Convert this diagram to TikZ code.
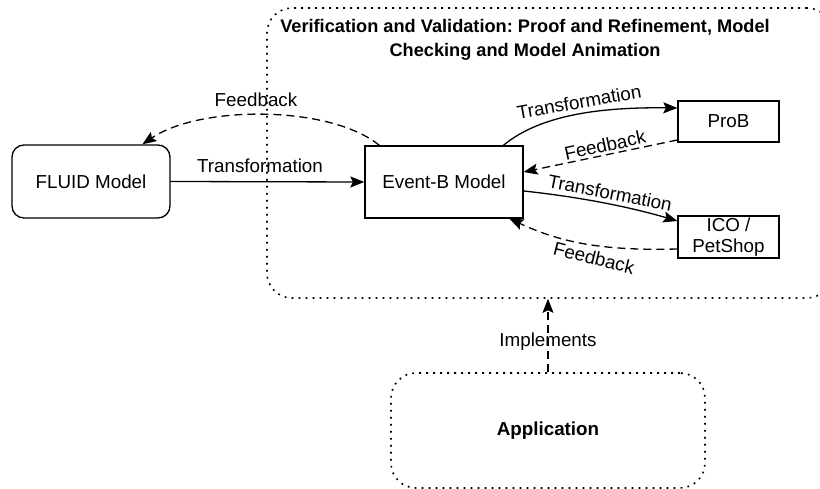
\documentclass[tikz,border=0pt]{standalone}
\usepackage{fontspec}
\setmainfont{Liberation Sans}
\usetikzlibrary{arrows.meta,calc}
\frenchspacing
\begin{document}
\begin{tikzpicture}[x=1pt,y=-1pt,
  every node/.style={font=\fontsize{18.8}{22}\selectfont},
  box/.style={draw, line width=1.3pt, inner sep=0pt},
  dotbox/.style={draw, line width=1.6pt, rounded corners=25pt, dash pattern=on 1.8pt off 5.2pt, inner sep=0pt},
  conn/.style={line width=1.3pt, -{Stealth[length=14pt,width=11pt,inset=2.5pt]}},
  fb/.style={conn, dash pattern=on 8pt off 5pt},
  lbl/.style={inner sep=0pt}
]
\useasboundingbox (0,0) rectangle (820,489);
\clip (0,0) rectangle (820,489);

\node[dotbox, minimum width=565pt, minimum height=290pt] (vv) at (549.5,153) {};
\node[font=\bfseries\fontsize{18.2}{24}\selectfont, align=center] (title) at (525,40) {Verification and Validation: Proof and Refinement, Model\\Checking and Model Animation};

\node[box, rounded corners=12pt, minimum width=158pt, minimum height=73pt] (fluid) at (91,181.5) {FLUID Model};
\node[box, minimum width=158pt, minimum height=72pt] (eventb) at (444,182) {Event-B Model};
\node[box, minimum width=101pt, minimum height=41pt] (prob) at (728.5,121.5) {ProB};
\node[box, minimum width=101pt, minimum height=42pt, align=center, font=\fontsize{18.8}{21}\selectfont] (ico) at (728.5,237) {ICO /\\PetShop};
\node[dotbox, minimum width=314pt, minimum height=115pt, font=\bfseries\fontsize{18.8}{22}\selectfont] (app) at (548,430.5) {Application};

% FLUID -> Event-B
\draw[conn] (fluid.east) -- (eventb.west);
\node[lbl] (l1) at (260,166) {Transformation};

% Event-B -> FLUID feedback
\draw[fb] ([xshift=15pt]eventb.north west) .. controls (330,105) and (200,105) .. ([xshift=131pt]fluid.north west);
\node[lbl] (l2) at (256,100) {Feedback};

% Event-B -> ProB
\draw[conn] ([xshift=139pt]eventb.north west) .. controls (540,115) and (600,107) .. ([yshift=13.5pt]prob.west);
\node[lbl, rotate=10] (l3) at (579,102) {Transformation};

% ProB -> Event-B feedback
\draw[fb] ([yshift=-18.5pt]prob.west) -- ([yshift=10pt]eventb.east);
\node[lbl, rotate=12] (l4) at (605,145) {Feedback};

% Event-B -> ICO
\draw[conn] ([yshift=-9pt]eventb.east) .. controls (580,197) and (630,207) .. ([yshift=16pt]ico.west);
\node[lbl, rotate=-11] (l5) at (610,193) {Transformation};

% ICO -> Event-B feedback
\draw[fb] ([yshift=-12pt]ico.west) .. controls (600,251) and (560,242) .. ([xshift=145pt]eventb.south west);
\node[lbl, rotate=-14] (l6) at (594,258) {Feedback};

% Application -> V&V
\draw[fb] (app.north) -- (app.north |- vv.south);
\node[lbl] (l7) at (548,342) {Implements};
\end{tikzpicture}
\end{document}
